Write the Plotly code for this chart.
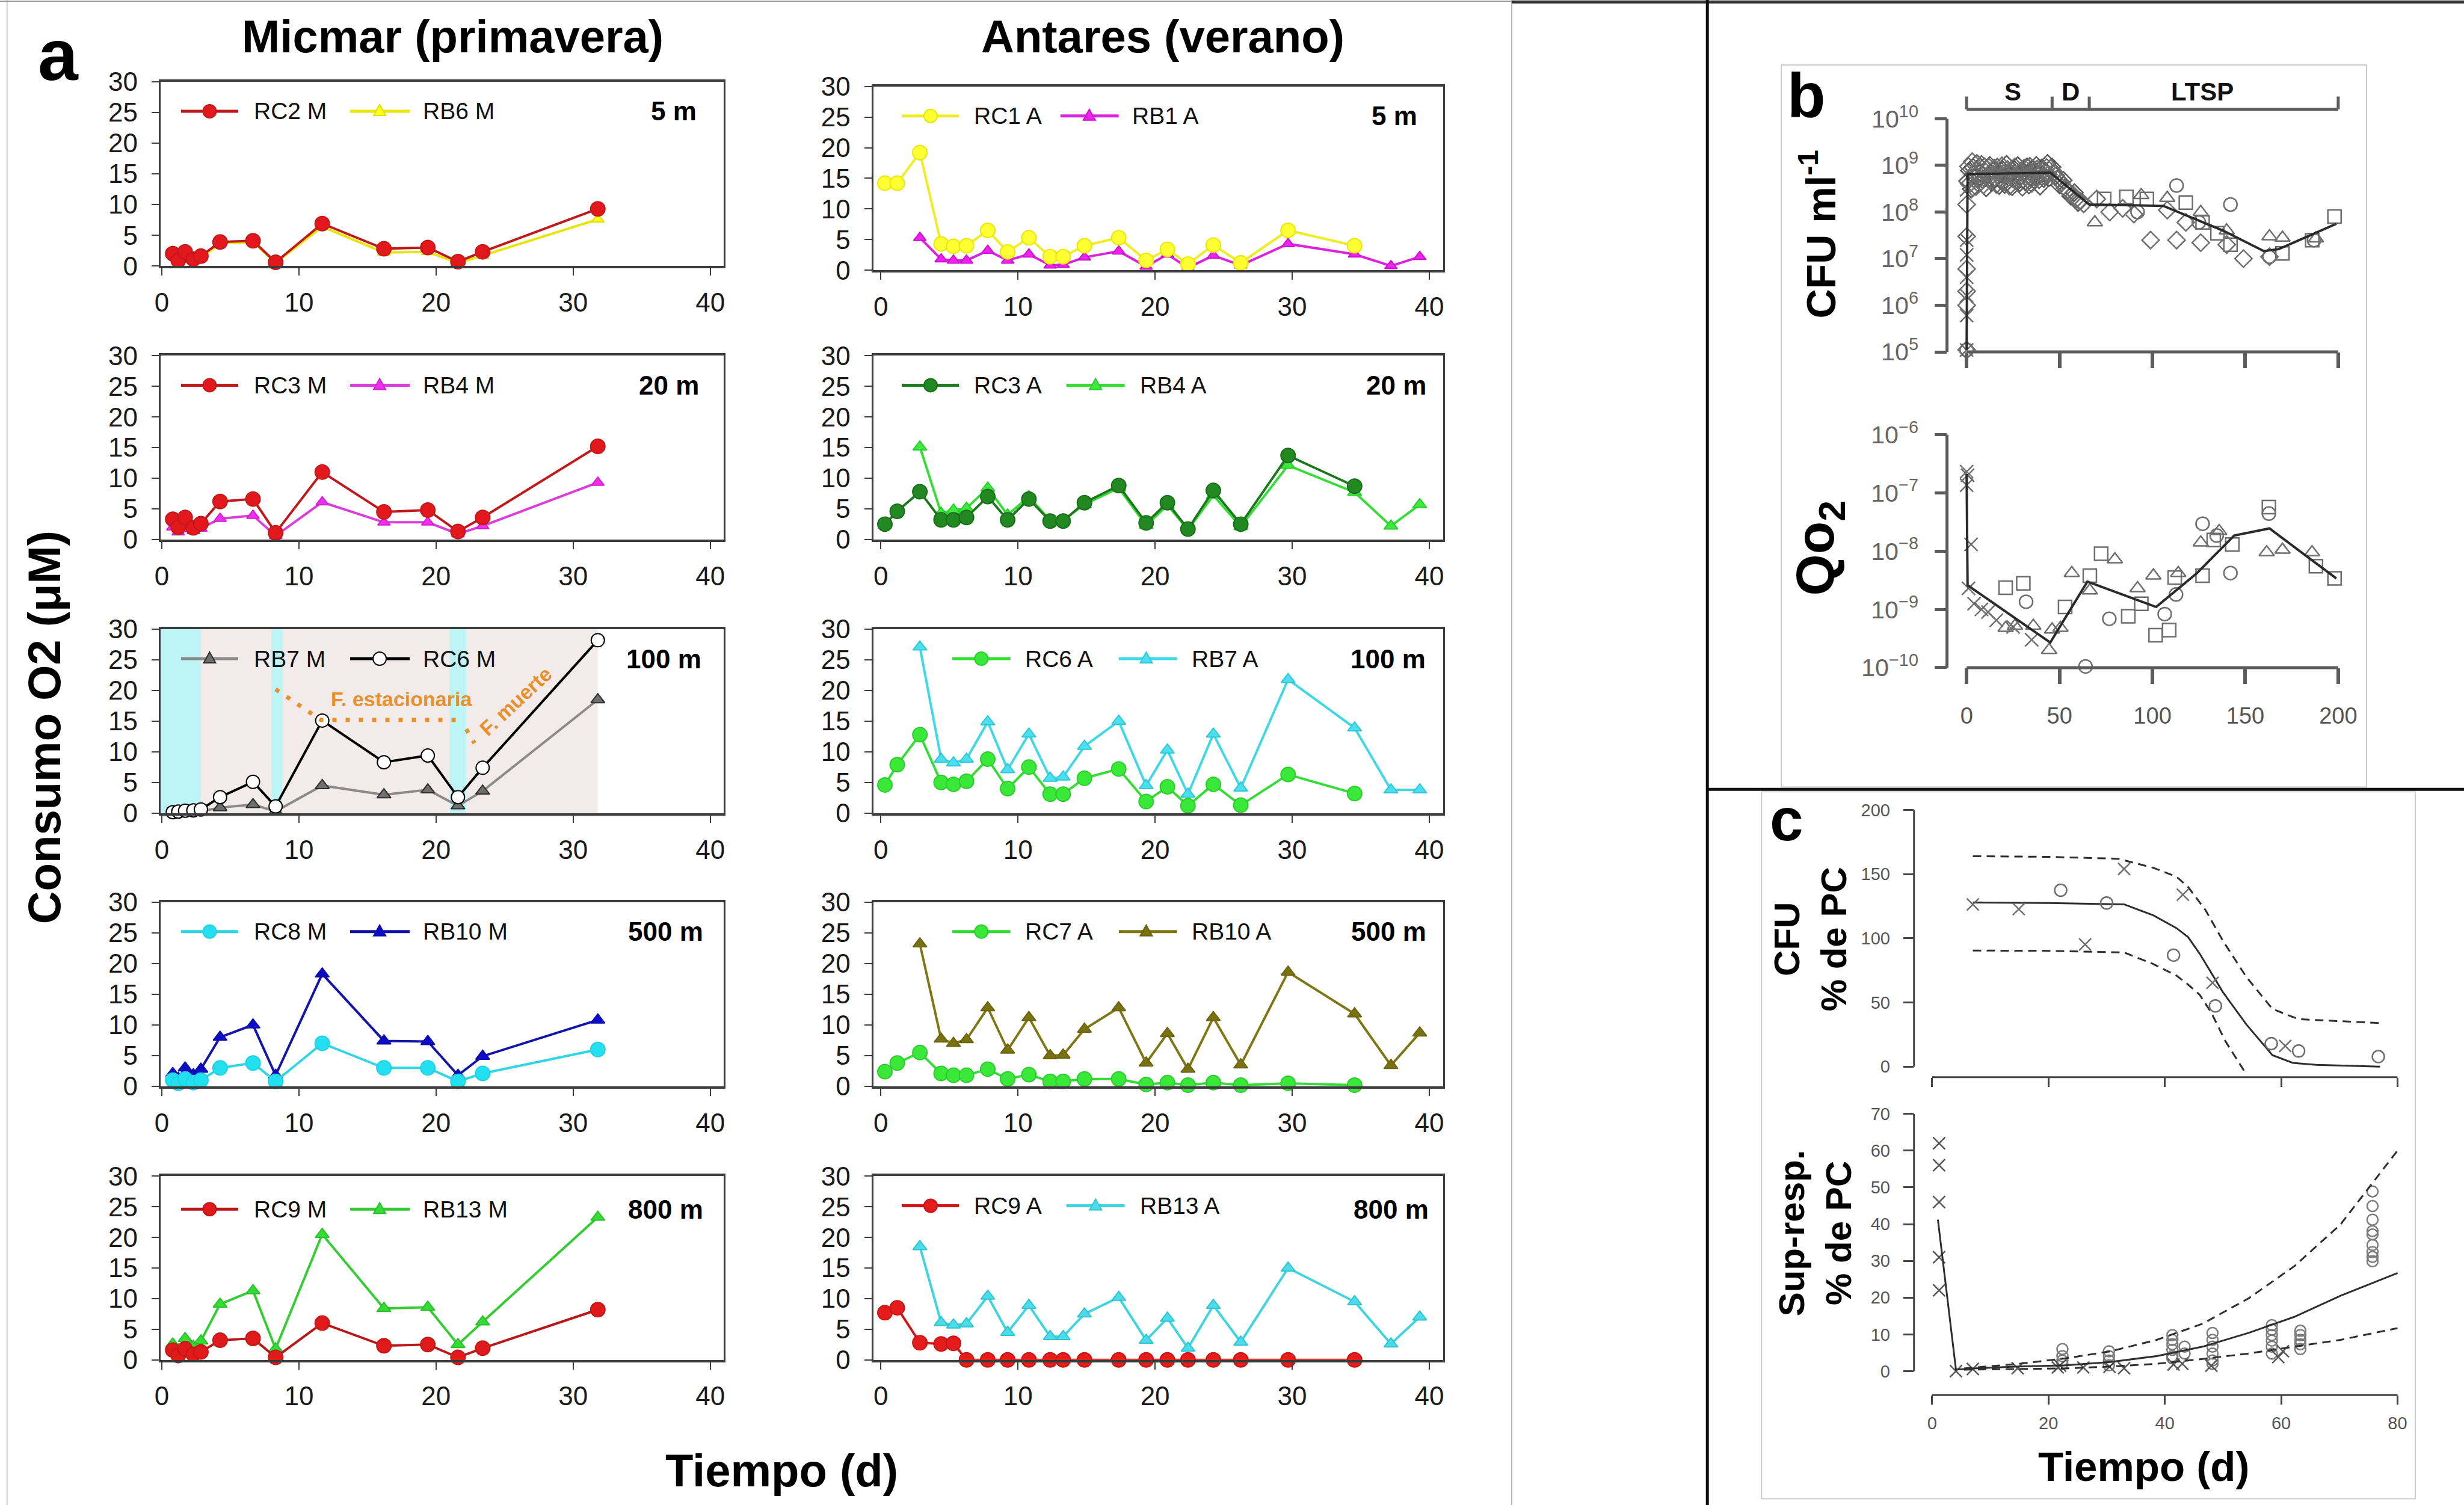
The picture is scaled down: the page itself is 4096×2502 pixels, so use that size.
import plotly.graph_objects as go

W, H = 4096, 2502
RW, RH = 1568.0, 958.0


def px(x):
    return x / RW


def py(y):
    return 1.0 - y / RH


SANS = "Liberation Sans, Arial, Helvetica, sans-serif"

# ======================= PANEL a : data =======================
days_micmar = [0.8, 1.2, 1.7, 2.3, 2.85, 4.25, 6.65, 8.3, 11.7, 16.2, 19.4, 21.6, 23.4, 31.8]
days_antares = [0.3, 1.2, 2.85, 4.4, 5.3, 6.25, 7.8, 9.25, 10.8, 12.35, 13.3, 14.85,
                17.35, 19.35, 20.9, 22.4, 24.25, 26.25, 29.7, 34.55]
days_antares_rb = [2.85, 4.4, 5.3, 6.25, 7.8, 9.25, 10.8, 12.35, 13.3, 14.85, 17.35,
                   19.35, 20.9, 22.4, 24.25, 26.25, 29.7, 34.55, 37.2, 39.3]

# Micmar (primavera)
rc2_m = [2.0, 0.9, 2.3, 1.1, 1.6, 3.9, 4.1, 0.6, 6.9, 2.8, 3.0, 0.7, 2.3, 9.3]
rb6_m = [2.4, 1.4, 2.2, 1.0, 1.3, 3.7, 3.9, 0.5, 6.4, 2.2, 2.3, 0.5, 1.7, 7.6]
rc3_m = [3.3, 2.0, 3.6, 1.9, 2.6, 6.2, 6.6, 1.1, 11.0, 4.5, 4.8, 1.3, 3.6, 15.2]
rb4_m = [2.0, 1.2, 1.7, 1.4, 1.8, 3.4, 3.9, 0.6, 6.1, 2.8, 2.8, 0.9, 2.2, 9.3]
rb7_m = [0.1, 0.1, 0.2, 0.2, 0.3, 0.9, 1.4, 0.3, 4.5, 3.0, 3.8, 1.2, 3.6, 18.5]
rc6_m = [0.15, 0.25, 0.4, 0.45, 0.6, 2.6, 5.1, 1.1, 15.1, 8.3, 9.4, 2.6, 7.4, 28.2]
rc8_m = [1.0, 0.5, 1.2, 0.6, 1.0, 3.0, 3.8, 0.8, 7.0, 3.0, 3.0, 0.8, 2.1, 6.0]
rb10_m = [2.1, 1.3, 3.0, 1.9, 2.8, 8.0, 10.0, 1.8, 18.3, 7.4, 7.3, 1.8, 4.9, 10.8]
rc9_m = [1.6, 0.7, 1.8, 0.9, 1.3, 3.2, 3.5, 0.4, 6.0, 2.3, 2.5, 0.4, 1.9, 8.2]
rb13_m = [2.6, 1.6, 3.5, 2.2, 3.1, 9.1, 11.3, 1.8, 20.5, 8.4, 8.6, 2.5, 6.2, 23.3]

# Antares (verano)
rc1_a = [14.2, 14.2, 19.2, 4.3, 3.9, 4.0, 6.5, 3.0, 5.3, 2.2, 2.2, 4.0, 5.3, 1.6, 3.4, 1.0, 4.1, 1.2, 6.5, 4.0]
rb1_a = [5.3, 1.8, 1.6, 1.6, 3.2, 1.6, 2.6, 0.8, 0.9, 2.1, 3.1, 0.6, 2.6, 0.4, 2.4, 0.8, 4.3, 2.6, 0.7, 2.2]
rc3_a = [2.5, 4.6, 7.8, 3.2, 3.2, 3.6, 7.0, 3.2, 6.6, 3.0, 3.0, 6.0, 8.8, 2.7, 6.0, 1.7, 8.0, 2.5, 13.7, 8.7]
rb4_a = [15.1, 4.3, 4.8, 5.1, 8.4, 4.0, 7.0, 3.1, 3.2, 5.7, 8.4, 2.3, 5.6, 1.6, 7.2, 2.1, 12.1, 7.7, 2.2, 5.7]
rc6_a = [4.6, 7.9, 12.8, 5.0, 4.7, 5.2, 8.8, 4.0, 7.5, 3.1, 3.1, 5.7, 7.2, 1.9, 4.3, 1.2, 4.7, 1.3, 6.3, 3.2]
rb7_a = [27.1, 8.8, 8.2, 8.8, 14.9, 7.1, 12.9, 5.7, 5.9, 10.9, 15.0, 4.5, 10.3, 3.1, 12.9, 4.1, 21.8, 13.9, 3.8, 3.8]
rc7_a = [2.4, 3.8, 5.5, 2.1, 1.8, 1.8, 2.8, 1.2, 1.9, 0.8, 0.8, 1.2, 1.2, 0.3, 0.6, 0.2, 0.6, 0.2, 0.5, 0.2]
rb10_a = [23.2, 7.7, 7.0, 7.6, 12.8, 5.9, 11.2, 5.0, 5.1, 9.3, 12.8, 3.8, 8.6, 2.8, 11.2, 3.5, 18.6, 11.8, 3.4, 8.7]
rc9_a = [7.7, 8.5, 2.8, 2.6, 2.7, 0, 0, 0, 0, 0, 0, 0, 0, 0, 0, 0, 0, 0, 0, 0]
rb13_a = [18.5, 6.1, 5.7, 5.9, 10.4, 4.5, 8.9, 3.8, 3.8, 7.5, 10.2, 3.2, 6.8, 1.9, 8.9, 2.9, 15.0, 9.5, 2.6, 7.0]

depth_labels = ["5 m", "20 m", "100 m", "500 m", "800 m"]
y_ticks_a = [0, 5, 10, 15, 20, 25, 30]
x_ticks_a = [0, 10, 20, 30, 40]

# growth phases shaded in the 100 m Micmar panel
cyan_bands_x0 = [-0.1, 8.0, 21.0]
cyan_bands_x1 = [2.85, 8.8, 22.2]
pink_band = [2.85, 31.8]
estacionaria_path_x = [8.3, 11.6, 21.7]
estacionaria_path_y = [20.2, 15.2, 15.2]
muerte_path_x = [22.2, 22.8]
muerte_path_y = [13.7, 11.4]

# ======================= PANEL b : data =======================
b_cfu_line = [(0, 1.1e5), (0.5, 6.5e8), (45, 7.0e8), (66, 1.45e8), (106, 1.35e8),
              (138, 4.0e7), (160, 1.45e7), (168, 1.6e7), (199, 5.6e7)]
b_cfu_diamond = [(1, 9.5e8), (2, 4.2e8), (3, 1.2e9), (4, 6.8e8), (5, 3.5e8), (6, 8.1e8), (7, 5.2e8),
                 (8, 1.05e9), (9, 3.8e8), (10, 7.4e8), (11, 5.9e8), (12, 9.1e8), (13, 4.6e8), (14, 6.3e8),
                 (15, 8.7e8), (16, 3.9e8), (17, 7.1e8), (18, 5.5e8), (19, 9.8e8), (20, 4.4e8), (21, 6.6e8),
                 (22, 8.2e8), (23, 3.6e8), (24, 7.8e8), (25, 5.1e8), (26, 9.3e8), (27, 4.8e8), (28, 6.9e8),
                 (29, 7.5e8), (30, 3.4e8), (31, 8.8e8), (32, 5.7e8), (33, 6.1e8), (34, 9.6e8), (35, 4.1e8),
                 (36, 7.3e8), (37, 5.4e8), (38, 8.4e8), (39, 4.9e8), (40, 6.7e8), (41, 7.9e8), (42, 5.8e8),
                 (43, 9.0e8), (44, 6.4e8), (45, 8.6e8), (47, 7.2e8), (49, 5.0e8), (51, 4.3e8), (53, 3.3e8),
                 (55, 2.7e8), (57, 2.4e8), (59, 1.9e8), (61, 1.7e8), (63, 1.5e8),
                 (0, 1.45e8), (0, 3.0e7), (0, 6.0e6), (0, 2.0e6), (0, 1.0e6), (0, 1.1e5),
                 (70, 1.9e8), (77, 1.0e8), (84, 1.2e8), (90, 9.0e7), (99, 2.5e7), (108, 1.1e8),
                 (113, 2.5e7), (118, 6.0e7), (126, 2.2e7), (140, 2.0e7), (149, 1.0e7), (163, 1.1e7)]
# overlapping replicate counts that form the dark band during the stationary phase
b_cfu_diamond_dense = [(0.5, 4.6e8), (1.5, 7.7e8), (2.5, 3.1e8), (3.5, 9.0e8), (4.5, 5.6e8), (5.5, 1.1e9),
                       (6.5, 4.0e8), (7.5, 7.0e8), (8.5, 5.0e8), (9.5, 9.4e8), (10.5, 3.3e8), (11.5, 6.2e8),
                       (12.5, 1.0e9), (13.5, 4.3e8), (14.5, 7.6e8), (15.5, 5.3e8), (16.5, 9.2e8), (17.5, 3.7e8),
                       (18.5, 6.5e8), (19.5, 8.0e8), (20.5, 3.9e8), (21.5, 1.05e9), (22.5, 5.6e8), (23.5, 6.9e8),
                       (24.5, 3.5e8), (25.5, 8.3e8), (26.5, 5.9e8), (27.5, 9.9e8), (28.5, 4.2e8), (29.5, 6.0e8),
                       (30.5, 7.3e8), (31.5, 4.5e8), (32.5, 9.3e8), (33.5, 3.8e8), (34.5, 6.8e8), (35.5, 8.6e8),
                       (36.5, 4.7e8), (37.5, 1.0e9), (38.5, 6.0e8), (39.5, 3.6e8), (40.5, 8.9e8), (41.5, 5.2e8),
                       (42.5, 7.0e8), (43.5, 1.1e9), (44.5, 5.5e8), (46, 9.2e8), (48, 6.0e8), (50, 3.8e8),
                       (52, 4.8e8), (54, 2.9e8), (56, 2.2e8), (58, 2.6e8), (60, 1.6e8)]
b_cfu_circle = [(113, 3.7e8), (142, 1.45e8), (92, 1.0e8), (163, 1.1e7), (187, 2.5e7), (0, 1.1e5), (125, 6.0e7)]
b_cfu_square = [(74, 1.9e8), (86, 2.1e8), (97, 1.9e8), (118, 1.6e8), (198, 8.0e7), (170, 1.3e7),
                (186, 2.5e7), (142, 2.0e7), (127, 6.0e7), (135, 3.5e7)]
b_cfu_triangle = [(69, 6.0e7), (94, 2.3e8), (126, 1.0e8), (163, 3.0e7), (170, 2.8e7), (188, 2.7e7),
                  (108, 2.0e8), (140, 4.0e7)]
b_cfu_cross = [(0, 2.5e7), (0, 1.2e7), (0, 4.0e6), (0, 1.6e6), (0, 6.0e5), (0, 1.1e5), (0, 3.0e8)]

b_qo2_line = [(0, 2.1e-7), (0.5, 2.6e-9), (45, 2.7e-10), (65, 3.0e-9), (102, 1.1e-9),
              (124, 4.2e-9), (144, 1.85e-8), (163, 2.45e-8), (199, 3.4e-9)]
b_qo2_cross = [(0, 2.3e-7), (0.5, 2.0e-7), (0, 1.35e-7), (2.4, 1.3e-8), (1, 2.3e-9), (4, 1.25e-9),
               (8, 1.0e-9), (11.5, 9.0e-10), (16, 6.5e-10), (25, 5.0e-10), (35, 3.0e-10)]
b_qo2_square = [(21, 2.35e-9), (30.5, 2.8e-9), (72.4, 9.0e-9), (87, 7.6e-10), (101.7, 3.6e-10),
                (109, 4.4e-10), (94, 1.25e-9), (66.3, 3.8e-9), (127, 3.8e-9), (188, 5.5e-9),
                (198, 3.4e-9), (162.7, 5.7e-8), (143, 1.3e-8), (53, 1.1e-9), (133, 1.55e-8), (112, 3.5e-9)]
b_qo2_circle = [(32, 1.35e-9), (76.8, 6.9e-10), (106.6, 8.3e-10), (64, 1.05e-10), (127, 2.95e-8),
                (134.6, 1.85e-8), (142, 4.2e-9), (162.7, 4.4e-8), (112.7, 1.8e-9)]
b_qo2_triangle = [(21, 4.8e-10), (26, 5.2e-10), (35.9, 5.2e-10), (44.4, 2.0e-10), (50.5, 4.8e-10),
                  (56.6, 4.2e-9), (66.3, 2.1e-9), (79.8, 7.2e-9), (92, 2.3e-9), (100.5, 3.8e-9),
                  (113.9, 4.2e-9), (126, 1.4e-8), (135.9, 2.2e-8), (161.5, 9.5e-9), (170, 1.05e-8),
                  (185.9, 9.5e-9), (46, 4.5e-10)]
phase_bounds = [0, 46, 66, 200]
phase_labels = ["S", "D", "LTSP"]
phase_label_x = [25, 56, 127]

# ======================= PANEL c : data =======================
c_cfu_fit_x = [7, 20, 33, 38, 42, 44, 46, 50, 54, 58.5, 62, 66, 77]
c_cfu_fit_y = [128, 127.5, 126.5, 118, 108, 101, 88, 58, 33, 9, 3, 1.5, 0]
c_cfu_hi_x = [7, 20, 32, 38, 42, 44, 47, 50, 54, 58.5, 63, 77]
c_cfu_hi_y = [164, 163.5, 162, 155, 148, 140, 122, 98, 70, 45, 37, 34]
c_cfu_lo_x = [7, 20, 33, 38, 42, 44, 46, 48, 50.4, 53.6]
c_cfu_lo_y = [90.5, 90.3, 89, 80, 71, 64, 56, 42, 20, -3]
c_cfu_cross_x = [7, 14.9, 26.3, 33, 43.1, 48.2, 60.7]
c_cfu_cross_y = [126.4, 122.8, 95.2, 154, 134, 65.4, 16.2]
c_cfu_circle_x = [22.1, 30, 41.5, 48.7, 58.3, 63, 76.7]
c_cfu_circle_y = [137.5, 127.5, 86.9, 47.4, 18, 12.2, 7.9]

c_sr_fit_x = [1, 4.1, 7, 15, 23, 30.7, 38.6, 46.5, 54.4, 62.3, 70.2, 80]
c_sr_fit_y = [41.2, 0.4, 0.75, 1.25, 1.6, 2.5, 4.1, 6.65, 10.4, 14.8, 20.5, 26.7]
c_sr_hi_x = [5.5, 15, 23, 30.7, 38.6, 46.5, 54.4, 62.3, 70.2, 80]
c_sr_hi_y = [0.75, 2, 3.5, 5.4, 8.5, 12.9, 19.8, 28.6, 39.9, 60]
c_sr_lo_x = [5.5, 15, 23, 30.7, 38.6, 46.5, 54.4, 62.3, 70.2, 80]
c_sr_lo_y = [0.4, 0.6, 0.75, 1.25, 2, 3.3, 4.8, 6.65, 8.5, 11.7]
c_sr_cross_x = [1.2, 1.2, 1.2, 1.2, 1.2, 4.1, 7, 14.7, 21.6, 26, 33, 43, 59.5, 60.3, 22, 30.5, 41.5, 48]
c_sr_cross_y = [62, 56, 46, 31, 22, 0, 0.6, 0.8, 1, 1, 0.8, 2, 3.8, 5.4, 1.5, 1.2, 1.8, 1.5]
c_sr_circle_x = [22.4, 22.4, 22.4, 22.4, 30.4, 30.4, 30.4, 30.4,
                 41.3, 41.3, 41.3, 41.3, 41.3, 41.3, 43.4, 43.4,
                 48.2, 48.2, 48.2, 48.2, 48.2, 48.2, 58.4, 58.4, 58.4, 58.4, 58.4, 58.4,
                 63.3, 63.3, 63.3, 63.3, 63.3,
                 75.7, 75.7, 75.7, 75.7, 75.7, 75.7, 75.7, 75.7, 75.7]
c_sr_circle_y = [6, 4.1, 2.9, 2, 5.4, 4.1, 2.9, 1.6,
                 9.8, 8.5, 7.3, 5.8, 4.1, 3.5, 6.65, 4.8,
                 10.4, 8.5, 6.65, 4.8, 2.9, 2.0, 12.5, 11.3, 9.8, 8.3, 6.65, 4.8,
                 11, 9.8, 8.5, 7.3, 6,
                 48.9, 44.9, 41.2, 38.1, 37.2, 34.3, 32.4, 31.1, 29.9]

# ======================= styles =======================
# name: (line colour, marker fill, marker edge, symbol, size)
STY = {
    "RC2 M": ("#c0191c", "#e3181d", "#c0191c", "circle", 24),
    "RB6 M": ("#e6e600", "#ffff1a", "#dede00", "triangle-up", 18),
    "RC3 M": ("#c0191c", "#e3181d", "#c0191c", "circle", 24),
    "RB4 M": ("#dc3cdc", "#f02ef0", "#d020d0", "triangle-up", 18),
    "RB7 M": ("#8a8a8a", "#6e6e6e", "#2e2e2e", "triangle-up", 20),
    "RC6 M": ("#000000", "#ffffff", "#000000", "circle", 22),
    "RC8 M": ("#2fd6e6", "#22e0f0", "#22d0e0", "circle", 24),
    "RB10 M": ("#1414a8", "#0c0cc8", "#0c0cb0", "triangle-up", 20),
    "RC9 M": ("#b81818", "#e01a1a", "#c01818", "circle", 24),
    "RB13 M": ("#33cc33", "#33dd33", "#2cc02c", "triangle-up", 20),
    "RC1 A": ("#eeee22", "#ffff33", "#e8e800", "circle", 24),
    "RB1 A": ("#dd22dd", "#ee22ee", "#cc11cc", "triangle-up", 18),
    "RC3 A": ("#1c7a1c", "#228822", "#1a6e1a", "circle", 24),
    "RB4 A": ("#36dd36", "#3ee83e", "#2ccc2c", "triangle-up", 20),
    "RC6 A": ("#33dd33", "#3ae83a", "#2ccc2c", "circle", 24),
    "RB7 A": ("#3fd8e6", "#4ae0ee", "#30c8d8", "triangle-up", 20),
    "RC7 A": ("#33dd33", "#3ae83a", "#2ccc2c", "circle", 24),
    "RB10 A": ("#7f7716", "#7a7210", "#6a640e", "triangle-up", 20),
    "RC9 A": ("#d41414", "#e51c1c", "#c81414", "circle", 24),
    "RB13 A": ("#3fd4e0", "#4adcea", "#30c4d0", "triangle-up", 20),
}

# (column, row, series in drawing order, legend order)
panels_a = [
    (0, 0, [("RB6 M", days_micmar, rb6_m), ("RC2 M", days_micmar, rc2_m)], ["RC2 M", "RB6 M"]),
    (0, 1, [("RB4 M", days_micmar, rb4_m), ("RC3 M", days_micmar, rc3_m)], ["RC3 M", "RB4 M"]),
    (0, 2, [("RB7 M", days_micmar, rb7_m), ("RC6 M", days_micmar, rc6_m)], ["RB7 M", "RC6 M"]),
    (0, 3, [("RB10 M", days_micmar, rb10_m), ("RC8 M", days_micmar, rc8_m)], ["RC8 M", "RB10 M"]),
    (0, 4, [("RB13 M", days_micmar, rb13_m), ("RC9 M", days_micmar, rc9_m)], ["RC9 M", "RB13 M"]),
    (1, 0, [("RB1 A", days_antares_rb, rb1_a), ("RC1 A", days_antares, rc1_a)], ["RC1 A", "RB1 A"]),
    (1, 1, [("RB4 A", days_antares_rb, rb4_a), ("RC3 A", days_antares, rc3_a)], ["RC3 A", "RB4 A"]),
    (1, 2, [("RB7 A", days_antares_rb, rb7_a), ("RC6 A", days_antares, rc6_a)], ["RC6 A", "RB7 A"]),
    (1, 3, [("RB10 A", days_antares_rb, rb10_a), ("RC7 A", days_antares, rc7_a)], ["RC7 A", "RB10 A"]),
    (1, 4, [("RB13 A", days_antares_rb, rb13_a), ("RC9 A", days_antares, rc9_a)], ["RC9 A", "RB13 A"]),
]

# layout geometry (reference pixels at 1568 wide)
col_box = [(102.1, 460.7, [-0.1, 41.0]), (555.7, 918.3, [-0.55, 41.0])]
row_tops = [[52.0, 226.4, 400.5, 574.2, 748.7], [55.0, 226.4, 400.5, 574.2, 748.7]]
row_bots = [[169.3, 343.4, 517.6, 691.5, 865.6], [172.0, 343.4, 517.6, 691.5, 865.6]]
# legend offsets from box left: (line0, line1, marker, text) for both entries
leg_off = [
    [(13.1, 49.5, 31.3, 58.6), (120.7, 158.6, 139.5, 166.2)],
    [(13.1, 49.5, 31.3, 58.6), (120.7, 158.6, 139.5, 166.2)],
    [(13.1, 49.5, 31.3, 58.6), (120.7, 158.6, 139.5, 166.2)],
    [(13.1, 49.5, 31.3, 58.6), (120.7, 158.6, 139.5, 166.2)],
    [(13.1, 49.5, 31.3, 58.6), (120.7, 158.6, 139.5, 166.2)],
    [(18.1, 54.6, 36.5, 63.2), (119.1, 156.2, 137.5, 164.1)],
    [(18.1, 54.6, 36.5, 63.2), (122.9, 160.0, 141.5, 168.8)],
    [(50.3, 87.3, 68.8, 95.9), (156.3, 193.3, 173.7, 201.7)],
    [(50.3, 87.3, 68.8, 95.9), (156.3, 193.3, 173.7, 201.7)],
    [(18.1, 54.6, 36.5, 63.2), (122.9, 160.0, 141.5, 169.0)],
]
depth_right_off = [-16.5, -15.0, -13.5, -12.5, -12.5, -15.8, -10.0, -10.4, -10.0, -8.3]

fig = go.Figure()
layout = {}
shapes = []
annotations = []


def axname(n):
    return ("x" if n == 1 else f"x{n}"), ("y" if n == 1 else f"y{n}")


def ann(x, y, text, size, color="#000", bold=False, angle=0, xanchor="center", yanchor="middle",
        xref="paper", yref="paper", family=SANS):
    annotations.append(dict(x=x, y=y, xref=xref, yref=yref, text=text, showarrow=False,
                            textangle=angle, xanchor=xanchor, yanchor=yanchor,
                            font=dict(family=family, size=size, color=color,
                                      weight="bold" if bold else "normal")))


def pline(x0, y0, x1, y1, color, width, xref="paper", yref="paper", layer="above", dash=None):
    d = dict(type="line", x0=x0, y0=y0, x1=x1, y1=y1, xref=xref, yref=yref, layer=layer,
             line=dict(color=color, width=width))
    if dash:
        d["line"]["dash"] = dash
    shapes.append(d)


# ---------------- panel a ----------------
for p, (col, row, series, legend) in enumerate(panels_a):
    n = p + 1
    xa, ya = axname(n)
    bl, br, xr = col_box[col]
    top, bot = row_tops[col][row], row_bots[col][row]
    for name, xs, ys in series:
        lc, mf, me, sym, sz = STY[name]
        fig.add_trace(go.Scatter(
            x=xs, y=ys, mode="lines+markers", xaxis=xa, yaxis=ya, name=name,
            line=dict(color=lc, width=4),
            marker=dict(symbol=sym, size=sz, color=mf, line=dict(color=me, width=2)),
            cliponaxis=False, showlegend=False))
    common = dict(showgrid=False, zeroline=False, showline=True, mirror=True, linecolor="#3c3c3c",
                  ticks="outside", ticklen=12, tickwidth=2, tickcolor="#3c3c3c",
                  tickfont=dict(family=SANS, size=44, color="#1a1a1a"))
    layout["xaxis" + xa[1:]] = dict(domain=[px(bl), px(br)], range=xr, anchor=ya, tickvals=x_ticks_a,
                                    linewidth=4, ticklabelstandoff=7, **common)
    layout["yaxis" + ya[1:]] = dict(domain=[py(bot), py(top)], range=[0, 30], anchor=xa, tickvals=y_ticks_a,
                                    linewidth=3, ticklabelstandoff=14, **common)
    # legend drawn as keys + labels
    ly = py(top + (21.0 if (row == 4 and col == 0) else 18.8))
    for k, name in enumerate(legend):
        lc, mf, me, sym, sz = STY[name]
        l0, l1, m, t = leg_off[p][k]
        pline(px(bl + l0), ly, px(bl + l1), ly, lc, 5)
        if sym == "circle":
            r = 11
            shapes.append(dict(type="circle", xref="paper", yref="paper", xsizemode="pixel", ysizemode="pixel",
                               xanchor=px(bl + m), yanchor=ly, x0=-r, x1=r, y0=-r, y1=r,
                               fillcolor=mf, line=dict(color=me, width=2)))
        else:
            shapes.append(dict(type="path", xref="paper", yref="paper", xsizemode="pixel", ysizemode="pixel",
                               xanchor=px(bl + m), yanchor=ly, path="M -10,-7 L 10,-7 L 0,11 Z",
                               fillcolor=mf, line=dict(color=me, width=2)))
        ann(px(bl + t), ly, name, 39, color="#111", xanchor="left")
    ann(px(br + depth_right_off[p]), py(top + (21.0 if row == 4 else 18.8)), depth_labels[row], 44,
        bold=True, xanchor="right")

# shaded growth phases (Micmar 100 m)
xa3, ya3 = axname(3)
shapes.append(dict(type="rect", xref=xa3, yref=ya3 + " domain", x0=pink_band[0], x1=pink_band[1], y0=0, y1=1,
                   fillcolor="#f3eaea", line=dict(width=0), layer="below"))
for a0, a1 in zip(cyan_bands_x0, cyan_bands_x1):
    shapes.append(dict(type="rect", xref=xa3, yref=ya3 + " domain", x0=a0, x1=a1, y0=0, y1=1,
                       fillcolor="#bdf5f7", line=dict(width=0), layer="below"))
ORANGE = "#e8902c"
for xs, ys in [(estacionaria_path_x, estacionaria_path_y), (muerte_path_x, muerte_path_y)]:
    fig.add_trace(go.Scatter(x=xs, y=ys, mode="lines", xaxis=xa3, yaxis=ya3, showlegend=False,
                             line=dict(color=ORANGE, width=7, dash="7px,15px"), hoverinfo="skip"))
ann(17.5, 18.6, "F. estacionaria", 34, color=ORANGE, bold=True, xref=xa3, yref=ya3)
ann(25.8, 18.2, "F. muerte", 34, color=ORANGE, bold=True, xref=xa3, yref=ya3, angle=-43)

# panel a titles
ann(px(288), py(23), "Micmar (primavera)", 76, bold=True)
ann(px(740), py(23), "Antares (verano)", 76, bold=True)
ann(px(37), py(35), "a", 120, bold=True)
ann(px(28), py(463), "Consumo O2 (\u03bcM)", 76, bold=True, angle=-90)
ann(px(497.5), py(936), "Tiempo (d)", 76, bold=True)

# ---------------- panel b ----------------
GRAY_AX = "#5c5c5c"
GRAY_MK = "#6e6e6e"


def unzip(pairs):
    return [a for a, b in pairs], [b for a, b in pairs]


b_x_dom = [px(1239), px(1491.5)]
b_x_range = [-10.57, 203]
for n, dom_y, yr in [(11, [py(224), py(75.6)], [5, 10]),
                     (12, [py(425), py(276.6)], [-10, -6])]:
    xa, ya = axname(n)
    layout["xaxis" + xa[1:]] = dict(domain=b_x_dom, range=b_x_range, anchor=ya, showgrid=False, zeroline=False,
                                    showline=False, ticks="outside", ticklen=26, tickwidth=6, tickcolor=GRAY_AX,
                                    tickvals=[0, 50, 100, 150, 200], showticklabels=(n == 12),
                                    ticklabelstandoff=20,
                                    tickfont=dict(family=SANS, size=38, color="#555"))
    layout["yaxis" + ya[1:]] = dict(domain=dom_y, range=yr, type="log", anchor=xa, showgrid=False,
                                    zeroline=False, showline=False, ticks="outside", ticklen=20, tickwidth=5,
                                    tickcolor=GRAY_AX, tickmode="linear", tick0=0, dtick=1,
                                    exponentformat="power", showexponent="all",
                                    ticklabelstandoff=20,
                                    tickfont=dict(family=SANS, size=33, color="#666"))
    pline(px(1239), dom_y[0], px(1239), dom_y[1], GRAY_AX, 5)
    pline(0, dom_y[0], 200, dom_y[0], GRAY_AX, 5, xref=xa)

xb1, yb1 = axname(11)
xb2, yb2 = axname(12)
for pairs, sym, col in [(b_cfu_diamond_dense, "diamond-open", "#5a5a5a"),
                        (b_cfu_diamond, "diamond-open", GRAY_MK), (b_cfu_circle, "circle-open", GRAY_MK),
                        (b_cfu_square, "square-open", GRAY_MK), (b_cfu_triangle, "triangle-up-open", GRAY_MK),
                        (b_cfu_cross, "x-thin-open", GRAY_MK)]:
    xs, ys = unzip(pairs)
    fig.add_trace(go.Scatter(x=xs, y=ys, mode="markers", xaxis=xb1, yaxis=yb1, showlegend=False, cliponaxis=False,
                             marker=dict(symbol=sym, size=22, color=col, line=dict(width=2.5, color=col))))
xs, ys = unzip(b_cfu_line)
fig.add_trace(go.Scatter(x=xs, y=ys, mode="lines", xaxis=xb1, yaxis=yb1, showlegend=False,
                         line=dict(color="#2a2a2a", width=4)))
for pairs, sym in [(b_qo2_square, "square-open"), (b_qo2_circle, "circle-open"),
                   (b_qo2_triangle, "triangle-up-open"), (b_qo2_cross, "x-thin-open")]:
    xs, ys = unzip(pairs)
    fig.add_trace(go.Scatter(x=xs, y=ys, mode="markers", xaxis=xb2, yaxis=yb2, showlegend=False, cliponaxis=False,
                             marker=dict(symbol=sym, size=22, color=GRAY_MK, line=dict(width=2.5, color=GRAY_MK))))
xs, ys = unzip(b_qo2_line)
fig.add_trace(go.Scatter(x=xs, y=ys, mode="lines", xaxis=xb2, yaxis=yb2, showlegend=False,
                         line=dict(color="#2a2a2a", width=4)))

# phase bracket S / D / LTSP
pline(phase_bounds[0], py(69.6), phase_bounds[-1], py(69.6), GRAY_AX, 5, xref=xb1)
for b in phase_bounds:
    pline(b, py(69.6), b, py(61.5), GRAY_AX, 5, xref=xb1)
for lab, lx in zip(phase_labels, phase_label_x):
    ann(lx, py(58.4), lab, 42, color="#111", bold=True, xref=xb1)

ann(px(1149.5), py(60.5), "b", 104, bold=True)
ann(px(1157), py(149), "CFU ml<sup>-1</sup>", 68, bold=True, angle=-90)
ann(px(1157.6), py(349), "Qo<sub>2</sub>", 89, bold=True, angle=-90)

# ---------------- panel c ----------------
c_x_dom = [px(1218), px(1529.4)]
c_x_range = [-3.11, 81]
for n, dom_y, yr, tv in [(13, [py(685.7), py(515.6)], [-8.2, 200], [0, 50, 100, 150, 200]),
                         (14, [py(888), py(709)], [-6.5, 70], [0, 10, 20, 30, 40, 50, 60, 70])]:
    xa, ya = axname(n)
    layout["xaxis" + xa[1:]] = dict(domain=c_x_dom, range=c_x_range, anchor=ya, showgrid=False, zeroline=False,
                                    showline=False, ticks="outside", ticklen=15, tickwidth=3, tickcolor="#444",
                                    tickvals=[0, 20, 40, 60, 80], showticklabels=(n == 14),
                                    ticklabelstandoff=6,
                                    tickfont=dict(family=SANS, size=29, color="#555"))
    layout["yaxis" + ya[1:]] = dict(domain=dom_y, range=yr, anchor=xa, showgrid=False, zeroline=False,
                                    showline=False, ticks="outside", ticklen=17, tickwidth=3, tickcolor="#444",
                                    tickvals=tv, ticklabelstandoff=16,
                                    tickfont=dict(family=SANS, size=29, color="#555"))
    pline(px(1218), tv[0], px(1218), tv[-1], "#444", 3, yref=ya)
    pline(0, dom_y[0], 80, dom_y[0], "#444", 3, xref=xa)

xc1, yc1 = axname(13)
xc2, yc2 = axname(14)
LN = "#2e2e2e"
fig.add_trace(go.Scatter(x=c_cfu_fit_x, y=c_cfu_fit_y, mode="lines", xaxis=xc1, yaxis=yc1, showlegend=False,
                         line=dict(color=LN, width=3)))
for xs, ys in [(c_cfu_hi_x, c_cfu_hi_y), (c_cfu_lo_x, c_cfu_lo_y)]:
    fig.add_trace(go.Scatter(x=xs, y=ys, mode="lines", xaxis=xc1, yaxis=yc1, showlegend=False,
                             line=dict(color=LN, width=3, dash="14px,9px")))
fig.add_trace(go.Scatter(x=c_cfu_cross_x, y=c_cfu_cross_y, mode="markers", xaxis=xc1, yaxis=yc1,
                         showlegend=False, cliponaxis=False,
                         marker=dict(symbol="x-thin-open", size=20, color=GRAY_MK, line=dict(width=2.5, color=GRAY_MK))))
fig.add_trace(go.Scatter(x=c_cfu_circle_x, y=c_cfu_circle_y, mode="markers", xaxis=xc1, yaxis=yc1,
                         showlegend=False, cliponaxis=False,
                         marker=dict(symbol="circle-open", size=20, color=GRAY_MK, line=dict(width=2.5, color=GRAY_MK))))

fig.add_trace(go.Scatter(x=c_sr_circle_x, y=c_sr_circle_y, mode="markers", xaxis=xc2, yaxis=yc2,
                         showlegend=False, cliponaxis=False,
                         marker=dict(symbol="circle-open", size=18, color="#7a7a7a", line=dict(width=2.5, color="#7a7a7a"))))
fig.add_trace(go.Scatter(x=c_sr_cross_x, y=c_sr_cross_y, mode="markers", xaxis=xc2, yaxis=yc2,
                         showlegend=False, cliponaxis=False,
                         marker=dict(symbol="x-thin-open", size=20, color="#555", line=dict(width=2.5, color="#555"))))
fig.add_trace(go.Scatter(x=c_sr_fit_x, y=c_sr_fit_y, mode="lines", xaxis=xc2, yaxis=yc2, showlegend=False,
                         line=dict(color=LN, width=3)))
for xs, ys in [(c_sr_hi_x, c_sr_hi_y), (c_sr_lo_x, c_sr_lo_y)]:
    fig.add_trace(go.Scatter(x=xs, y=ys, mode="lines", xaxis=xc2, yaxis=yc2, showlegend=False,
                             line=dict(color=LN, width=3, dash="14px,9px")))

ann(px(1137), py(521.5), "c", 100, bold=True)
ann(px(1152), py(597.7), "CFU<br>% de PC", 60, bold=True, angle=-90)
ann(px(1155), py(785), "Sup-resp.<br>% de PC", 60, bold=True, angle=-90)
ann(px(1364), py(933.5), "Tiempo (d)", 69, bold=True)

# ---------------- frame lines ----------------
pline(px(4.5), 0, px(4.5), 1, "#cfcfcf", 2)
pline(0, py(0.8), px(962), py(0.8), "#9a9a9a", 2)
pline(px(962), 0, px(962), 1, "#b4b4b4", 2)
pline(px(962), py(1.2), 1, py(1.2), "#333", 5)
pline(px(1086.5), 0, px(1086.5), 1, "#111", 5)
pline(px(1086.5), py(502.5), 1, py(502.5), "#111", 5)
shapes.append(dict(type="rect", xref="paper", yref="paper", x0=px(1133.5), x1=px(1506), y0=py(501), y1=py(41.4),
                   line=dict(color="#cccccc", width=2), layer="below"))
shapes.append(dict(type="rect", xref="paper", yref="paper", x0=px(1121), x1=px(1537), y0=py(954), y1=py(504),
                   line=dict(color="#cccccc", width=2), layer="below"))

layout.update(dict(width=W, height=H, margin=dict(l=0, r=0, t=0, b=0, pad=0, autoexpand=False),
                   paper_bgcolor="white", plot_bgcolor="rgba(0,0,0,0)", showlegend=False,
                   shapes=shapes, annotations=annotations, font=dict(family=SANS)))
fig.update_layout(**layout)
fig.write_html("out.html")
